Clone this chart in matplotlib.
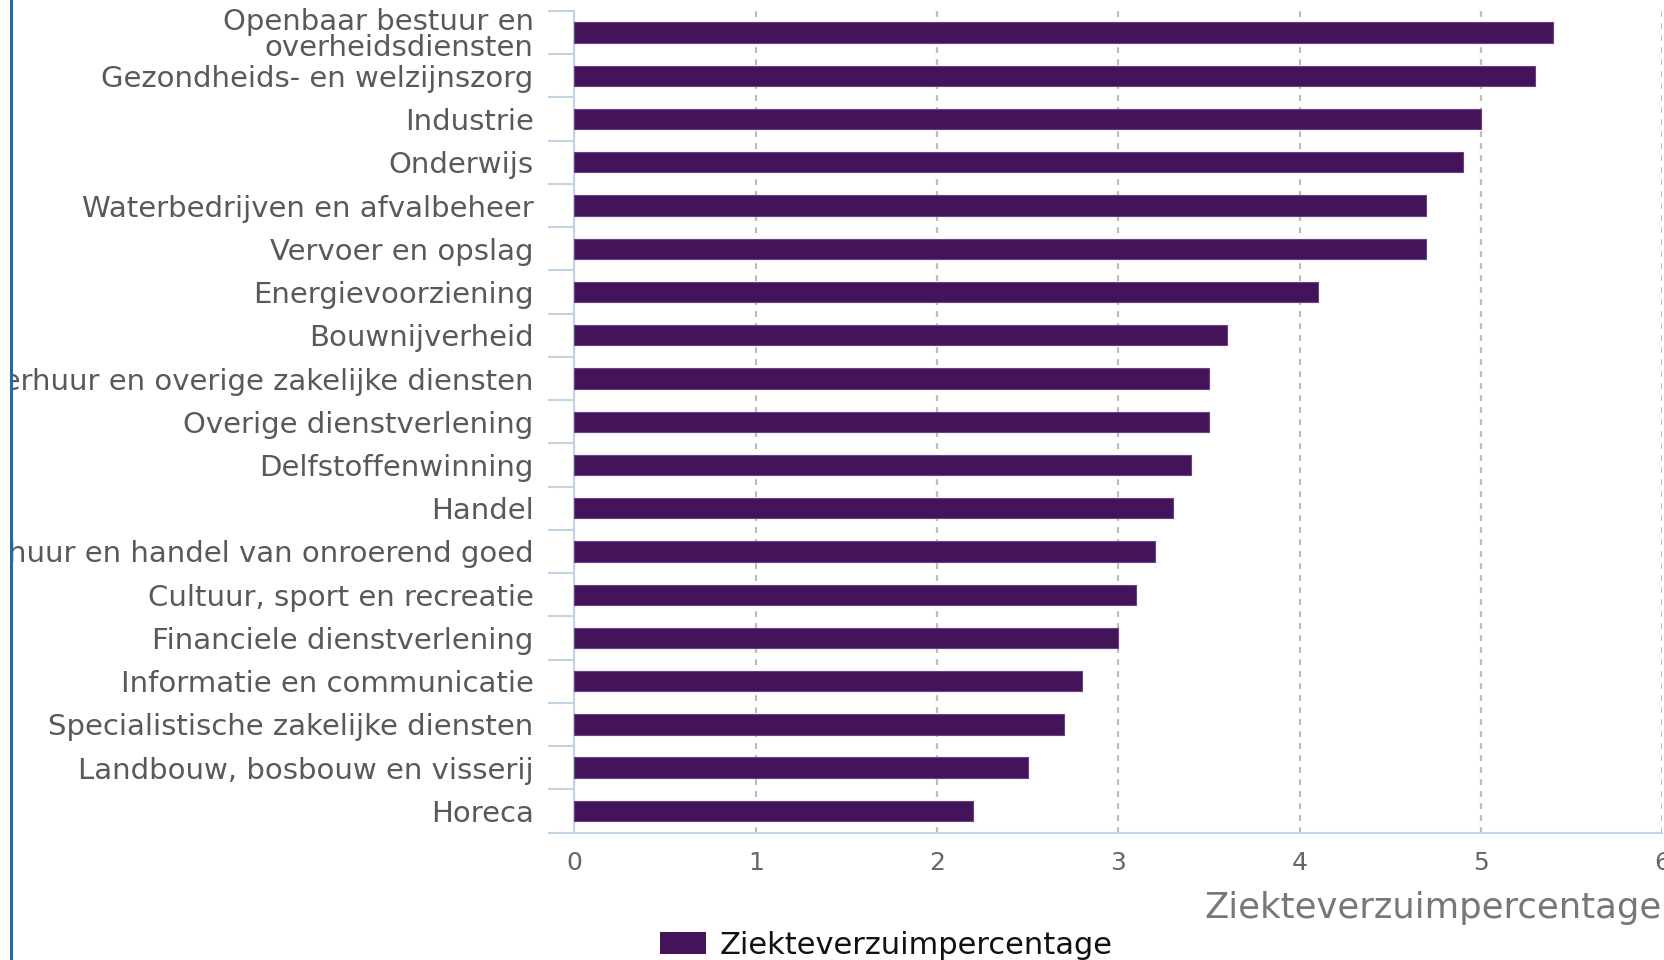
import matplotlib
matplotlib.use("Agg")
import matplotlib.pyplot as plt
from matplotlib.patches import Rectangle
from matplotlib.lines import Line2D
import numpy as np

categories = [
    "Openbaar bestuur en\noverheidsdiensten",
    "Gezondheids- en welzijnszorg",
    "Industrie",
    "Onderwijs",
    "Waterbedrijven en afvalbeheer",
    "Vervoer en opslag",
    "Energievoorziening",
    "Bouwnijverheid",
    "Verhuur en overige zakelijke diensten",
    "Overige dienstverlening",
    "Delfstoffenwinning",
    "Handel",
    "Verhuur en handel van onroerend goed",
    "Cultuur, sport en recreatie",
    "Financiele dienstverlening",
    "Informatie en communicatie",
    "Specialistische zakelijke diensten",
    "Landbouw, bosbouw en visserij",
    "Horeca",
]
values = [5.4, 5.3, 5.0, 4.9, 4.7, 4.7, 4.1, 3.6, 3.5, 3.5, 3.4, 3.3, 3.2,
          3.1, 3.0, 2.8, 2.7, 2.5, 2.2]
x_ticks = [0, 1, 2, 3, 4, 5, 6]
series_name = "Ziekteverzuimpercentage"
axis_title = "Ziekteverzuimpercentage"

plt.rcParams["font.family"] = ["DejaVu Sans"]

W, H = 1665, 960
fig = plt.figure(figsize=(W / 100, H / 100), dpi=100)
left, right = 574.5 / W, 1662 / W
top, bottom = 1 - 11 / H, 1 - 832.5 / H
ax = fig.add_axes([left, bottom, right - left, top - bottom])

bar_color = "#43145a"
axis_color = "#c3d3e6"
y = np.arange(len(categories))
ax.barh(y, values, height=0.47, color=bar_color, edgecolor="#6a3f86",
        linewidth=0.8, zorder=3)
ax.set_ylim(len(categories) - 0.5, -0.5)
ax.set_xlim(0, 6)

ax.set_yticks(y)
ax.set_yticklabels(categories, fontsize=21, color="#595959",
                   linespacing=0.92)
ax.tick_params(axis="y", which="major", length=0, pad=29.5)
ax.set_yticks(np.arange(-0.5, len(categories)), minor=True)
ax.tick_params(axis="y", which="minor", length=19, width=1.5, color=axis_color)

ax.set_xticks(x_ticks)
ax.set_xticklabels([str(t) for t in x_ticks], fontsize=18, color="#666666")
ax.tick_params(axis="x", length=0, pad=13)

for s in ["top", "right"]:
    ax.spines[s].set_visible(False)
for s in ["left", "bottom"]:
    ax.spines[s].set_color(axis_color)
    ax.spines[s].set_linewidth(1.5)

ax.grid(axis="x", color="#bebebe", linestyle=(0, (2.6, 2.8)), linewidth=1.6,
        zorder=0)
ax.set_axisbelow(True)

ax.set_xlabel(axis_title, fontsize=25.5, color="#777777", loc="right",
              labelpad=12)

# legend
handle = Rectangle((0, 0), 1, 1, facecolor=bar_color)
leg = fig.legend([handle], [series_name], loc="center", ncol=1,
                 bbox_to_anchor=(886 / W, 1 - 945 / H), frameon=False,
                 prop=dict(size=22), handlelength=1.5,
                 handleheight=0.72, handletextpad=0.45)
for t in leg.get_texts():
    t.set_color("#111111")

# left clip and blue edge line
fig.patches.append(Rectangle((0, 0), 11 / W, 1, transform=fig.transFigure,
                             facecolor="white", edgecolor="none", zorder=10))
fig.lines.append(Line2D([11.5 / W, 11.5 / W], [0, 1], transform=fig.transFigure,
                        color="#1f6ca8", linewidth=2.2, zorder=11))

fig.savefig("out.png", dpi=100, facecolor="white")
